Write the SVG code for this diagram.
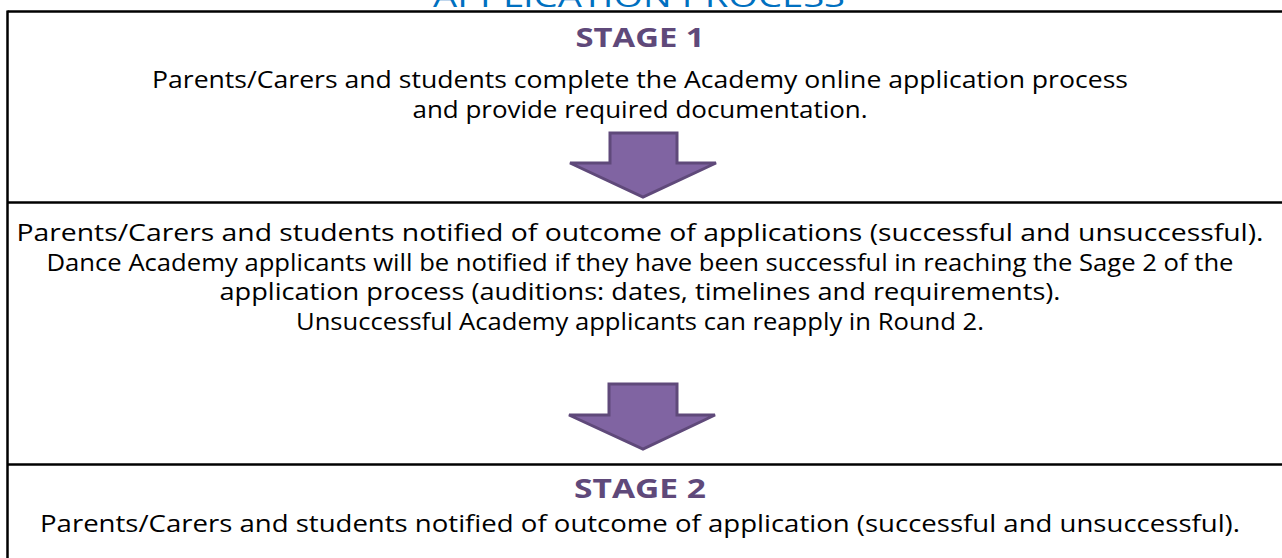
<svg xmlns="http://www.w3.org/2000/svg" width="1282" height="558" viewBox="0 0 1282 558">
<style>
.t{font-family:"Open Sans","Noto Sans","Liberation Sans",sans-serif;font-size:23px;fill:#000;text-anchor:middle}
.h{font-family:"Open Sans","Noto Sans","Liberation Sans",sans-serif;font-size:27px;font-weight:bold;fill:#5F497A;text-anchor:middle}
.ttl{font-family:"Open Sans","Noto Sans","Liberation Sans",sans-serif;font-size:30px;fill:#0070C0;text-anchor:middle}
.b{stroke:#000;stroke-width:2.5;fill:none}
.arr{fill:#8064A2;stroke:#5F497A;stroke-width:3;stroke-linejoin:miter}
</style>
<rect width="1282" height="558" fill="#fff"/>
<text class="ttl" x="639" y="7" textLength="412" lengthAdjust="spacingAndGlyphs">APPLICATION PROCESS</text>
<g id="table">
<line class="b" x1="7.5" y1="11.5" x2="1282" y2="11.5"/>
<line class="b" x1="7.5" y1="10.5" x2="7.5" y2="558"/>
<line class="b" x1="7.5" y1="202.5" x2="1282" y2="202.5"/>
<line class="b" x1="7.5" y1="464.5" x2="1282" y2="464.5"/>
</g>
<g id="stage1">
<text class="h" x="640" y="47" textLength="129" lengthAdjust="spacingAndGlyphs">STAGE 1</text>
<text class="t" x="640" y="88" textLength="976" lengthAdjust="spacingAndGlyphs">Parents/Carers and students complete the Academy online application process</text>
<text class="t" x="640" y="118" textLength="455" lengthAdjust="spacingAndGlyphs">and provide required documentation.</text>
</g>
<g id="outcome">
<text class="t" x="640" y="241" textLength="1247" lengthAdjust="spacingAndGlyphs">Parents/Carers and students notified of outcome of applications (successful and unsuccessful).</text>
<text class="t" x="640" y="271" textLength="1187" lengthAdjust="spacingAndGlyphs">Dance Academy applicants will be notified if they have been successful in reaching the Sage 2 of the</text>
<text class="t" x="640" y="300" textLength="841" lengthAdjust="spacingAndGlyphs">application process (auditions: dates, timelines and requirements).</text>
<text class="t" x="640" y="330" textLength="688" lengthAdjust="spacingAndGlyphs">Unsuccessful Academy applicants can reapply in Round 2.</text>
</g>
<g id="stage2">
<text class="h" x="640" y="498" textLength="132" lengthAdjust="spacingAndGlyphs">STAGE 2</text>
<text class="t" x="640" y="532" textLength="1200" lengthAdjust="spacingAndGlyphs">Parents/Carers and students notified of outcome of application (successful and unsuccessful).</text>
</g>
<g id="connectors">
<polygon class="arr" points="610,133 677,133 677,163 716,163 643,197 570,163 610,163"/>
<polygon class="arr" points="609,384 677,384 677,415 715,415 643,449 569,415 609,415"/>
</g>
</svg>
